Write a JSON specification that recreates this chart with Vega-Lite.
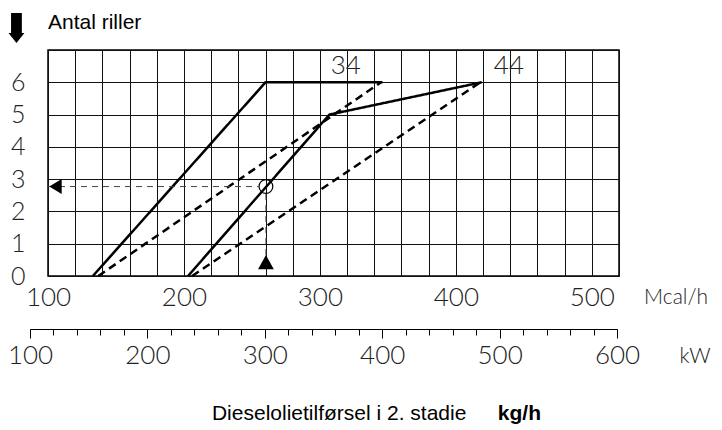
{
  "$schema": "https://vega.github.io/schema/vega-lite/v6.json",
  "width": 571,
  "height": 226,
  "autosize": {"type": "none"},
  "padding": {"left": 48, "top": 50, "right": 103, "bottom": 154},
  "background": "white",
  "config": {
    "view": {"stroke": "#000", "strokeWidth": 1.5},
    "font": "Lato"
  },
  "datasets": {
    "curves": [
      {"s": "34s", "style": "solid", "x": 133, "y": 0, "o": 1},
      {"s": "34s", "style": "solid", "x": 260, "y": 6, "o": 2},
      {"s": "34s", "style": "solid", "x": 346, "y": 6, "o": 3},
      {"s": "34d", "style": "dashed", "x": 137, "y": 0, "o": 1},
      {"s": "34d", "style": "dashed", "x": 345, "y": 6, "o": 2},
      {"s": "44s", "style": "solid", "x": 203, "y": 0, "o": 1},
      {"s": "44s", "style": "solid", "x": 307, "y": 5, "o": 2},
      {"s": "44s", "style": "solid", "x": 419, "y": 6, "o": 3},
      {"s": "44d", "style": "dashed", "x": 206, "y": 0, "o": 1},
      {"s": "44d", "style": "dashed", "x": 418, "y": 6, "o": 2}
    ],
    "guides": [
      {"g": "h", "x": 100, "y": 2.77, "o": 1},
      {"g": "h", "x": 254.8, "y": 2.77, "o": 2},
      {"g": "v", "x": 260.3, "y": 2.54, "o": 1},
      {"g": "v", "x": 260.3, "y": 0.65, "o": 2}
    ],
    "circle": [{"x": 260.3, "y": 2.77}],
    "triLeft": [{"x": 105.5, "y": 2.77}],
    "triUp": [{"x": 260.3, "y": 0.43}],
    "arrow": [{"x": 76.8, "y": 7.68}],
    "dot": [{"x": 172, "y": 1}],
    "curveLabels": [
      {"t": "34", "x": 319, "y": 6.49},
      {"t": "44", "x": 439, "y": 6.49}
    ],
    "units": [
      {"t": "Mcal/h", "x": 562, "y": -0.68},
      {"t": "kW", "x": 576, "y": -2.51}
    ],
    "titleTop": [{"t": "Antal riller", "x": 100, "y": 7.64}],
    "titleBottom": [{"t": "Dieselolietilførsel i 2. stadie", "x": 220.6, "y": -4.46}],
    "titleBold": [{"t": "kg/h", "x": 430.9, "y": -4.46}],
    "kw": [{"kw": 100}, {"kw": 600}]
  },
  "resolve": {"scale": {"x": "independent"}, "axis": {"x": "independent"}},
  "layer": [
    {
      "layer": [
        {
          "data": {"name": "curves"},
          "mark": {"type": "line", "color": "#000", "strokeWidth": 2.5, "strokeCap": "butt"},
          "encoding": {
            "x": {
              "field": "x", "type": "quantitative",
              "scale": {"domain": [100, 520], "nice": false, "zero": false},
              "axis": {
                "orient": "bottom",
                "values": [100,120,140,160,180,200,220,240,260,280,300,320,340,360,380,400,420,440,460,480,500,520],
                "tickCount": 200,
                "grid": true, "gridColor": "#111", "gridWidth": 1, "gridOpacity": 1,
                "domain": false, "ticks": false,
                "labelExpr": "datum.value % 100 === 0 && datum.value <= 500 ? datum.label : ''",
                "format": "d",
                "labelFont": "Lato", "labelFontWeight": 300, "labelFontSize": 26,
                "labelColor": "#222", "labelPadding": 8, "labelOverlap": false, "labelFlush": false,
                "labelBound": false,
                "title": null
              }
            },
            "y": {
              "field": "y", "type": "quantitative",
              "scale": {"domain": [0, 7], "nice": false, "zero": false},
              "axis": {
                "values": [0,1,2,3,4,5,6,7],
                "tickCount": 200,
                "format": "d",
                "grid": true, "gridColor": "#111", "gridWidth": 1, "gridOpacity": 1,
                "domain": false, "ticks": false,
                "labelExpr": "datum.value < 7 ? datum.label : ''",
                "labelFont": "Lato", "labelFontWeight": 300, "labelFontSize": 25,
                "labelColor": "#222", "labelPadding": 23, "labelOverlap": false, "labelFlush": false,
                "labelBaseline": "middle",
                "title": null
              }
            },
            "detail": {"field": "s"},
            "order": {"field": "o", "type": "quantitative"},
            "strokeDash": {
              "field": "style", "type": "nominal",
              "scale": {"domain": ["solid", "dashed"], "range": [[1, 0], [8, 5]]},
              "legend": null
            }
          }
        },
        {
          "data": {"name": "guides"},
          "mark": {"type": "line", "color": "#444", "strokeWidth": 1, "strokeDash": [6, 5]},
          "encoding": {
            "x": {"field": "x", "type": "quantitative"},
            "y": {"field": "y", "type": "quantitative"},
            "detail": {"field": "g"},
            "order": {"field": "o", "type": "quantitative"}
          }
        },
        {
          "data": {"name": "circle"},
          "mark": {"type": "point", "shape": "circle", "filled": false, "size": 190, "color": "#000", "strokeWidth": 1.2, "opacity": 1},
          "encoding": {
            "x": {"field": "x", "type": "quantitative"},
            "y": {"field": "y", "type": "quantitative"}
          }
        },
        {
          "data": {"name": "triLeft"},
          "mark": {"type": "point", "shape": "M-0.83,0L0.83,-1L0.83,1Z", "filled": true, "size": 225, "color": "#000", "opacity": 1},
          "encoding": {
            "x": {"field": "x", "type": "quantitative"},
            "y": {"field": "y", "type": "quantitative"}
          }
        },
        {
          "data": {"name": "triUp"},
          "mark": {"type": "point", "shape": "M0,-0.95L1.05,0.95L-1.05,0.95Z", "filled": true, "size": 225, "color": "#000", "opacity": 1},
          "encoding": {
            "x": {"field": "x", "type": "quantitative"},
            "y": {"field": "y", "type": "quantitative"}
          }
        },
        {
          "data": {"name": "arrow"},
          "mark": {"type": "point", "shape": "M-0.36,-1L0.36,-1L0.36,0.33L0.53,0.33L0,1L-0.53,0.33L-0.36,0.33Z", "filled": true, "size": 900, "color": "#000", "opacity": 1},
          "encoding": {
            "x": {"field": "x", "type": "quantitative"},
            "y": {"field": "y", "type": "quantitative"}
          }
        },
        {
          "data": {"name": "dot"},
          "mark": {"type": "point", "shape": "square", "filled": true, "size": 6, "color": "#000", "opacity": 1},
          "encoding": {
            "x": {"field": "x", "type": "quantitative"},
            "y": {"field": "y", "type": "quantitative"}
          }
        },
        {
          "data": {"name": "curveLabels"},
          "mark": {"type": "text", "font": "Lato", "fontWeight": 300, "fontSize": 26, "color": "#222", "align": "center", "baseline": "middle"},
          "encoding": {
            "x": {"field": "x", "type": "quantitative"},
            "y": {"field": "y", "type": "quantitative"},
            "text": {"field": "t"}
          }
        },
        {
          "data": {"name": "units"},
          "mark": {"type": "text", "font": "Lato", "fontWeight": 300, "fontSize": 21, "color": "#222", "align": "center", "baseline": "middle"},
          "encoding": {
            "x": {"field": "x", "type": "quantitative"},
            "y": {"field": "y", "type": "quantitative"},
            "text": {"field": "t"}
          }
        },
        {
          "data": {"name": "titleTop"},
          "mark": {"type": "text", "font": "Liberation Sans", "fontSize": 21, "color": "#000", "align": "left", "baseline": "alphabetic"},
          "encoding": {
            "x": {"field": "x", "type": "quantitative"},
            "y": {"field": "y", "type": "quantitative"},
            "text": {"field": "t"}
          }
        },
        {
          "data": {"name": "titleBottom"},
          "mark": {"type": "text", "font": "Liberation Sans", "fontSize": 21, "color": "#000", "align": "left", "baseline": "alphabetic"},
          "encoding": {
            "x": {"field": "x", "type": "quantitative"},
            "y": {"field": "y", "type": "quantitative"},
            "text": {"field": "t"}
          }
        },
        {
          "data": {"name": "titleBold"},
          "mark": {"type": "text", "font": "Liberation Sans", "fontSize": 21, "fontWeight": "bold", "color": "#000", "align": "left", "baseline": "alphabetic"},
          "encoding": {
            "x": {"field": "x", "type": "quantitative"},
            "y": {"field": "y", "type": "quantitative"},
            "text": {"field": "t"}
          }
        }
      ]
    },
    {
      "data": {"name": "kw"},
      "mark": {"type": "point", "opacity": 0},
      "encoding": {
        "x": {
          "field": "kw", "type": "quantitative",
          "scale": {"domain": [100, 600], "range": [-18, 569], "nice": false, "zero": false},
          "axis": {
            "orient": "bottom", "offset": 53,
            "values": [100,200,300,400,500,600],
            "tickCount": 200,
            "grid": false, "domain": true, "domainColor": "#000", "domainWidth": 1,
            "ticks": true, "tickSize": 9, "tickColor": "#000", "tickWidth": 1,
            "format": "d",
            "labelFont": "Lato", "labelFontWeight": 300, "labelFontSize": 26,
            "labelColor": "#222", "labelPadding": 4, "labelOverlap": false, "labelFlush": false,
            "labelBound": false,
            "title": null
          }
        }
      }
    },
    {
      "data": {"name": "kw"},
      "mark": {"type": "point", "opacity": 0},
      "encoding": {
        "x": {
          "field": "kw", "type": "quantitative",
          "scale": {"domain": [100, 600], "range": [-18, 569], "nice": false, "zero": false},
          "axis": {
            "orient": "bottom", "offset": 53,
            "values": [100,120,140,160,180,200,220,240,260,280,300,320,340,360,380,400,420,440,460,480,500,520,540,560,580,600],
            "tickCount": 200,
            "grid": false, "domain": false, "labels": false,
            "ticks": true, "tickSize": 6, "tickColor": "#000", "tickWidth": 1,
            "title": null
          }
        }
      }
    }
  ]
}
